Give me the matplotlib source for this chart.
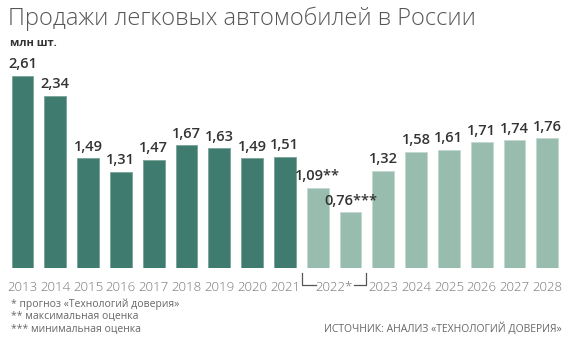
import numpy as np
import matplotlib.pyplot as plt

years = ['2013', '2014', '2015', '2016', '2017', '2018', '2019', '2020', '2021',
         '2022a', '2022b', '2023', '2024', '2025', '2026', '2027', '2028']
values = [2.61, 2.34, 1.49, 1.31, 1.47, 1.67, 1.63, 1.49, 1.51,
          1.09, 0.76, 1.32, 1.58, 1.61, 1.71, 1.74, 1.76]
labels = ['2,61', '2,34', '1,49', '1,31', '1,47', '1,67', '1,63', '1,49', '1,51',
          '1,09**', '0,76***', '1,32', '1,58', '1,61', '1,71', '1,74', '1,76']
tick_labels = ['2013', '2014', '2015', '2016', '2017', '2018', '2019', '2020', '2021',
               '2022*', '2023', '2024', '2025', '2026', '2027', '2028']
n_actual = 9

dark = '#3f7b6f'
light = '#98bcae'

plt.rcParams['font.family'] = ['Open Sans', 'DejaVu Sans']

W, H = 570, 349
fig = plt.figure(figsize=(W / 100, H / 100), dpi=100)
base_px = 268          # baseline, px from top
px_unit = 32.8         # px per bar slot
py_unit = 73.6         # px per 1 mln
x0_px = 22.5
ax = fig.add_axes([0, (H - base_px) / H, 1, base_px / H])
ax.set_xlim(-x0_px / px_unit, (W - x0_px) / px_unit)
ax.set_ylim(0, base_px / py_unit)
ax.axis('off')

x = np.arange(len(values))
colors = [dark if i < n_actual else light for i in range(len(values))]
edges = ['#7fa89c' if i < n_actual else '#c4d9d0' for i in range(len(values))]
ax.bar(x, values, width=0.67, color=colors, edgecolor=edges, linewidth=0.7)

for xi, v, lab in zip(x, values, labels):
    ax.text(xi, v + 0.06, lab, ha='center', va='bottom', fontsize=10.5,
            fontweight='semibold', color='#333333')

# year labels
tick_pos = list(range(n_actual)) + [9.5] + list(range(11, len(values)))
for tp, tl in zip(tick_pos, tick_labels):
    ax.text(tp, -0.26, tl, ha='center', va='center', fontsize=9.5,
            color='#777777', fontweight='light', clip_on=False)

# bracket for 2022
yb_top = -0.07
yb_bot = -0.23
lx = 8.5 + 0.02
rx = 10.5 - 0.02
ax.plot([lx, lx, 9.5 - 0.55], [yb_top, yb_bot, yb_bot], color='#555555', lw=0.9, clip_on=False)
ax.plot([9.5 + 0.6, rx, rx], [yb_bot, yb_bot, yb_top], color='#555555', lw=0.9, clip_on=False)

fig.text(8 / W, 1 - 19 / H, 'Продажи легковых автомобилей в России', fontsize=17,
         fontweight='light', color='#555555', va='center', ha='left')
fig.text(10 / W, 1 - 43 / H, 'млн шт.', fontsize=8, fontweight='bold',
         color='#333333', va='center', ha='left')

notes = ['* прогноз «Технологий доверия»', '** максимальная оценка', '*** минимальная оценка']
for i, t in enumerate(notes):
    fig.text(11 / W, 1 - (304 + 12.8 * i) / H, t, fontsize=7.5, color='#666666',
             va='center', ha='left')
fig.text(562 / W, 1 - 329 / H, 'ИСТОЧНИК: АНАЛИЗ «ТЕХНОЛОГИЙ ДОВЕРИЯ»', fontsize=7.5,
         color='#666666', va='center', ha='right')

fig.savefig('out.png', dpi=100, facecolor='white')
